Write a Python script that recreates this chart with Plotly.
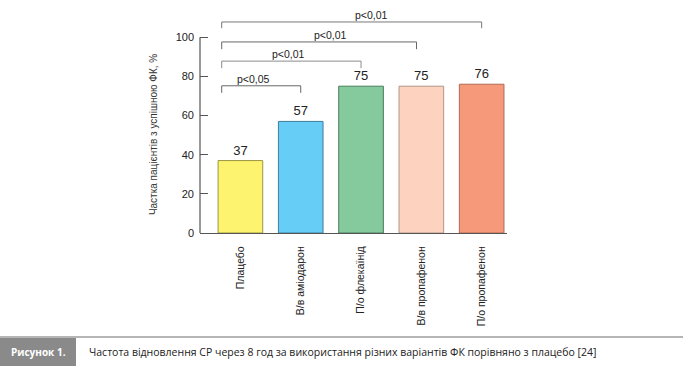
import plotly.graph_objects as go

categories = ["Плацебо", "В/в аміодарон", "П/о флекаїнід", "В/в пропафенон", "П/о пропафенон"]
values = [37, 57, 75, 75, 76]
fill_colors = ["#FEF36E", "#66CEF6", "#84CA9C", "#FDD3C0", "#F6997A"]
edge_colors = ["#9C9640", "#3E7E9C", "#4A7D5C", "#B09688", "#B06A52"]
y_ticks = [0, 20, 40, 60, 80, 100]

# significance brackets
bracket_right = [1, 2, 2.92, 4]
bracket_y = [75.2, 87.8, 97.6, 107.8]
bracket_drop = [3.6, 3.6, 3.7, 3.2]
bracket_labels = ["p<0,05", "p<0,01", "p<0,01", "p<0,01"]
bracket_label_x = [0.21, 0.79, 1.49, 2.18]
bracket_colors = ["#666666", "#8c8c8c", "#666666", "#777777"]
bracket_left = -0.31

caption_label = "Рисунок 1."
caption_text = "Частота відновлення СР через 8 год за використання різних варіантів ФК порівняно з плацебо [24]"
y_title = "Частка пацієнтів з успішною ФК, %"

font_main = "Liberation Sans, Arial, sans-serif"

W, H = 683, 366
ML, MR, MT, MB = 200, 176, 2, 133

fig = go.Figure()
fig.add_trace(go.Bar(
    x=list(range(len(categories))),
    y=values,
    width=0.74,
    marker=dict(color=fill_colors, line=dict(color=edge_colors, width=1)),
    text=[str(v) for v in values],
    textposition="outside",
    cliponaxis=False,
    textfont=dict(family=font_main, size=13, color="#222222"),
    hoverinfo="skip",
))

shapes = []
annotations = []
for r, yv, d, lab, lx, c in zip(bracket_right, bracket_y, bracket_drop, bracket_labels, bracket_label_x, bracket_colors):
    shapes.append(dict(type="path", xref="x", yref="y",
                       path=f"M {bracket_left} {yv - d} L {bracket_left} {yv} L {r} {yv} L {r} {yv - d}",
                       line=dict(color=c, width=1)))
    annotations.append(dict(x=lx, y=yv + 3.6, xref="x", yref="y", text=lab, showarrow=False,
                            font=dict(family=font_main, size=10.5, color="#222222")))

# y axis line only spanning 0..100
shapes.append(dict(type="line", xref="paper", yref="y", x0=0, x1=0, y0=0, y1=100,
                   line=dict(color="#555555", width=1.2)))

def px(x): return (x - ML) / (W - ML - MR)
def py(y): return (H - MB - y) / (H - MT - MB)

# caption band
shapes.append(dict(type="rect", xref="paper", yref="paper", x0=px(0), x1=px(76), y0=py(366), y1=py(338),
                   fillcolor="#8a8a8a", line=dict(width=0), layer="below"))
shapes.append(dict(type="line", xref="paper", yref="paper", x0=px(0), x1=px(683), y0=py(337), y1=py(337),
                   line=dict(color="#b5b5b5", width=2)))

annotations.append(dict(xref="paper", yref="y", x=px(153), y=50, text=y_title, textangle=-90,
                        showarrow=False, xanchor="center", yanchor="middle",
                        font=dict(family=font_main, size=10, color="#333333")))
annotations.append(dict(xref="paper", yref="paper", x=px(38), y=py(352), text="<b>" + caption_label + "</b>",
                        showarrow=False, xanchor="center", yanchor="middle",
                        font=dict(family="Open Sans, sans-serif", size=10, color="white")))
annotations.append(dict(xref="paper", yref="paper", x=px(87), y=py(352), text=caption_text,
                        showarrow=False, xanchor="left", yanchor="middle",
                        font=dict(family="Open Sans, sans-serif", size=10.5, color="#222222")))

fig.update_layout(
    width=W, height=H,
    margin=dict(l=ML, r=MR, t=MT, b=MB),
    paper_bgcolor="white", plot_bgcolor="white",
    showlegend=False,
    shapes=shapes, annotations=annotations,
    xaxis=dict(range=[-0.67, 4.42], tickmode="array", tickvals=list(range(len(categories))),
               ticktext=categories, tickangle=-90, showline=True, linecolor="#555555", linewidth=1.2,
               ticks="", showgrid=False, zeroline=False, fixedrange=True, ticklabelstandoff=8,
               tickfont=dict(family=font_main, size=10.5, color="#222222")),
    yaxis=dict(range=[0, 118], tickmode="array", tickvals=y_ticks, ticks="inside", ticklen=8,
               tickcolor="#555555", tickwidth=1.2, showline=False, showgrid=False, zeroline=False,
               fixedrange=True, ticklabelstandoff=5,
               tickfont=dict(family=font_main, size=11, color="#222222")),
)

fig.write_html("out.html", config={"displayModeBar": False},
               post_script="document.body.style.margin='0';document.body.style.overflow='hidden';")
